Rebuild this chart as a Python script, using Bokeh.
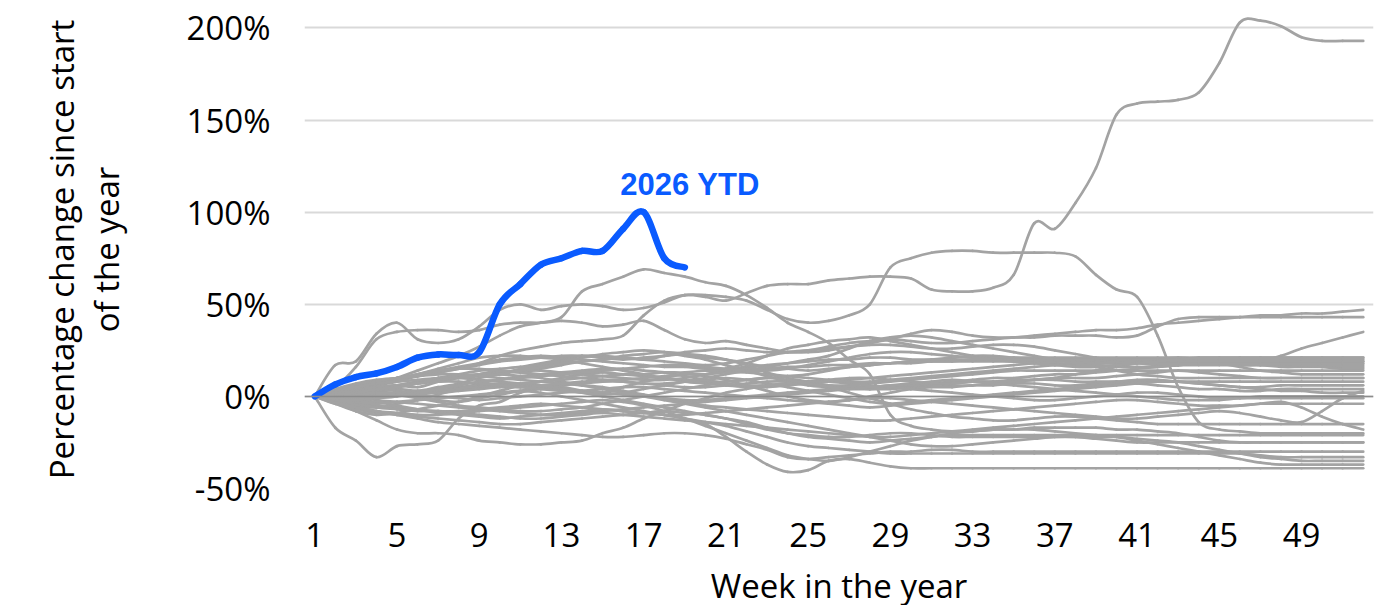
from bokeh.plotting import figure
from bokeh.models import Range1d, FixedTicker, Span, Label
from bokeh.embed import file_html
from bokeh.resources import INLINE

# ---------------- data ----------------
weeks = list(range(1, 53))
x_tick_weeks = [1, 5, 9, 13, 17, 21, 25, 29, 33, 37, 41, 45, 49]
y_ticks = [-50, 0, 50, 100, 150, 200]
y_tick_labels = ["-50%", "0%", "50%", "100%", "150%", "200%"]

ytd_label = "2026 YTD"
ytd_weeks = list(range(1, 20))
ytd_2026 = [0, 6.5, 10.5, 12.5, 16, 21, 22.8, 22.5, 24, 50, 61, 71.5, 75, 79, 79, 91, 100, 75, 70]

s01 = [0, 17, 19, 34, 40, 31, 29, 31, 38, 47, 50, 47, 49,
       50, 49, 47, 48, 51, 55, 54, 52, 56, 60, 61, 61, 63,
       64, 65, 65, 64, 58, 57, 57, 59, 66, 94, 91, 105, 124,
       153, 159, 160, 161, 165, 181, 203, 204, 201, 195, 193, 193, 193]
s02 = [0, 2, 4, 6, 8, 11, 13, 15, 18, 22, 25, 27, 29,
       30, 31, 33, 44, 52, 55, 55, 54, 52, 47, 42, 40, 41,
       44, 50, 70, 75, 78, 79, 79, 78, 78, 78, 78, 76, 66,
       58, 54, 33, 5, -14, -18, -19, -20, -20, -20, -20, -20, -20]
s03 = [0, -2, 2, 6, 10, 14, 18, 22, 27, 33, 38, 40, 43,
       57, 61, 65, 69, 67, 65, 62, 60, 55, 48, 40, 35, 29,
       20, 12, -10, -16, -18, -19, -19, -18, -18, -17, -17, -17, -17,
       -18, -18, -19, -20, -22, -24, -25, -25, -25, -25, -25, -25, -25]
s04 = [0, 5, 16, 31, 35, 36, 36, 35, 36, 39, 40, 40, 41,
       40, 38, 39, 41, 36, 31, 29, 30, 28, 26, 24, 24, 25,
       27, 29, 31, 34, 36, 35, 33, 32, 32, 33, 34, 35, 36,
       36, 37, 39, 40, 41, 42, 43, 44, 44, 45, 45, 46, 47]
s05 = [0, 1, 3, 5, 6, 8, 10, 12, 14, 15, 16, 18, 20,
       22, 22, 21, 20, 22, 24, 25, 26, 25, 24, 24, 25, 27,
       29, 30, 31, 30, 29, 29, 30, 31, 32, 32, 33, 33, 33,
       32, 33, 38, 42, 43, 43, 43, 43, 43, 43, 43, 43, 43]
s06 = [0, 2, 1, 4, 6, 5, 8, 10, 12, 14, 13, 15, 17,
       19, 20, 22, 23, 24, 23, 21, 20, 18, 16, 15, 14, 15,
       16, 17, 18, 19, 20, 21, 22, 22, 21, 20, 19, 19, 18,
       18, 19, 20, 20, 19, 18, 18, 19, 22, 26, 29, 32, 35]
s07 = [0, 3, 5, 8, 10, 12, 14, 16, 18, 20, 21, 22, 21,
       20, 19, 18, 17, 16, 16, 15, 15, 16, 17, 18, 19, 20,
       20, 21, 21, 20, 20, 20, 20, 21, 21, 21, 21, 21, 21,
       21, 21, 21, 21, 21, 21, 21, 21, 21, 21, 21, 21, 21]
s08 = [0, -4, -8, -10, -9, -7, -5, -3, 0, 3, 6, 8, 10,
       12, 13, 12, 11, 10, 9, 8, 8, 9, 10, 11, 12, 14,
       16, 17, 18, 18, 19, 19, 19, 19, 19, 19, 19, 19, 19,
       19, 19, 19, 19, 19, 19, 19, 19, 19, 19, 19, 19, 19]
s09 = [0, 2, 4, 6, 9, 12, 15, 18, 21, 22, 22, 21, 20,
       18, 16, 14, 12, 10, 8, 7, 6, 5, 5, 6, 7, 8,
       9, 10, 11, 12, 13, 14, 15, 16, 17, 18, 19, 20, 20,
       19, 18, 17, 17, 17, 17, 17, 17, 17, 17, 17, 17, 17]
s10 = [0, 1, 2, 3, 5, 7, 9, 11, 12, 13, 14, 14, 13,
       12, 11, 10, 9, 9, 10, 12, 15, 18, 22, 26, 28, 30,
       31, 32, 30, 28, 26, 24, 22, 20, 19, 18, 18, 17, 17,
       16, 16, 16, 17, 18, 18, 17, 17, 16, 16, 16, 16, 16]
s11 = [0, -1, 0, 2, 4, 3, 5, 7, 10, 12, 15, 17, 19,
       21, 23, 24, 25, 24, 22, 20, 17, 14, 11, 8, 6, 5,
       4, 4, 5, 6, 7, 8, 9, 10, 10, 11, 12, 12, 13,
       14, 15, 16, 17, 18, 19, 20, 19, 18, 17, 16, 15, 15]
s12 = [0, 2, 3, 2, 1, 0, -2, -3, -1, 1, 3, 5, 6,
       7, 8, 8, 7, 6, 5, 5, 6, 7, 8, 8, 7, 6,
       6, 7, 8, 9, 10, 11, 12, 13, 14, 14, 14, 14, 14,
       14, 14, 14, 14, 14, 14, 14, 14, 14, 14, 14, 14, 14]
s13 = [0, -3, -5, -6, -4, -2, 1, 4, 7, 9, 11, 12, 13,
       14, 15, 15, 14, 13, 11, 9, 7, 6, 6, 7, 8, 9,
       10, 10, 9, 8, 7, 6, 6, 7, 8, 9, 10, 12, 14,
       16, 18, 20, 21, 20, 18, 16, 14, 13, 12, 12, 12, 12]
s14 = [0, 4, 7, 9, 10, 11, 13, 15, 17, 19, 20, 21, 22,
       22, 21, 20, 21, 22, 23, 22, 20, 17, 13, 10, 8, 6,
       5, 4, 4, 5, 6, 7, 8, 8, 9, 9, 10, 10, 10,
       11, 12, 13, 14, 13, 12, 11, 10, 10, 10, 10, 10, 10]
s15 = [0, 1, 3, 4, 3, 2, 3, 5, 6, 7, 6, 5, 4,
       3, 2, 1, 0, -1, -2, -2, -1, 0, 1, 2, 3, 4,
       5, 5, 6, 6, 7, 7, 8, 8, 8, 9, 9, 8, 8,
       8, 8, 8, 8, 8, 8, 8, 8, 8, 8, 8, 8, 8]
s16 = [0, -17, -24, -33, -27, -26, -24, -12, -5, -3, 2, 4, 5,
       3, 2, 5, 8, 10, 12, 11, 9, 6, 3, 0, -2, -3,
       -2, 0, 2, 4, 5, 5, 6, 6, 7, 7, 6, 6, 7,
       8, 9, 9, 8, 7, 6, 5, 5, 6, 6, 6, 6, 6]
s17 = [0, 2, 5, 7, 9, 12, 14, 15, 15, 14, 13, 12, 11,
       10, 9, 8, 7, 7, 8, 9, 10, 9, 7, 5, 3, 1,
       -1, -3, -4, -3, -2, -1, 0, 1, 2, 3, 4, 5, 6,
       7, 7, 6, 5, 4, 4, 3, 3, 4, 4, 4, 4, 4]
s18 = [0, -2, -1, 1, 2, 1, 0, -1, -2, -1, 0, 1, 2,
       3, 4, 5, 5, 4, 3, 2, 1, 0, -1, -2, -3, -4,
       -5, -6, -5, -4, -3, -2, -1, 0, 1, 2, 3, 4, 5,
       6, 7, 8, 8, 7, 6, 5, 4, 3, 3, 2, 2, 2]
s19 = [0, -3, -8, -13, -18, -20, -20, -21, -24, -25, -26, -26, -25,
       -24, -20, -17, -12, -8, -4, -1, 2, 4, 6, 7, 8, 8,
       7, 6, 5, 4, 3, 2, 1, 0, -1, -2, -2, -1, 0,
       1, 2, 2, 1, 0, -1, -1, 0, 0, 0, 0, 0, 0]
s20 = [0, 1, 0, -2, -3, -4, -5, -6, -7, -8, -9, -10, -10,
       -9, -8, -7, -6, -5, -4, -3, -2, -1, 0, 1, 2, 3,
       4, 5, 6, 7, 8, 9, 8, 7, 6, 5, 4, 3, 2,
       1, 0, -1, -2, -2, -2, -1, -1, -1, -1, -1, -1, -1]
s21 = [0, 3, 6, 8, 10, 11, 12, 12, 11, 10, 9, 8, 7,
       6, 5, 3, 1, -1, -3, -5, -6, -7, -8, -9, -10, -11,
       -12, -13, -13, -12, -11, -10, -9, -8, -7, -6, -5, -4, -3,
       -2, -2, -3, -4, -5, -5, -5, -4, -4, -4, -4, -4, -4]
s22 = [0, -1, -3, -5, -6, -7, -8, -8, -7, -6, -5, -4, -5,
       -6, -7, -8, -9, -10, -10, -9, -8, -7, -6, -5, -4, -3,
       -2, -1, -1, -2, -3, -4, -5, -6, -7, -8, -9, -10, -11,
       -12, -12, -11, -10, -9, -8, -9, -11, -13, -14, -8, -1, 3]
s23 = [0, 2, 4, 3, 1, -1, -3, -5, -6, -7, -8, -8, -7,
       -6, -4, -2, 0, 2, 4, 6, 8, 9, 10, 9, 7, 5,
       2, -1, -4, -7, -9, -11, -12, -13, -13, -12, -11, -11, -12,
       -13, -14, -15, -15, -15, -15, -15, -15, -15, -15, -15, -15, -15]
s24 = [0, -2, -4, -6, -7, -8, -8, -9, -10, -11, -12, -12, -11,
       -10, -9, -10, -11, -12, -13, -14, -15, -16, -17, -18, -19, -20,
       -21, -22, -22, -21, -20, -19, -18, -17, -16, -15, -14, -13, -12,
       -11, -10, -9, -8, -7, -6, -5, -4, -3, -6, -11, -15, -18]
s25 = [0, -4, -7, -9, -10, -11, -12, -13, -14, -15, -15, -14, -13,
       -12, -11, -10, -9, -8, -9, -10, -12, -14, -17, -20, -22, -23,
       -24, -25, -24, -23, -22, -21, -21, -21, -21, -21, -21, -21, -21,
       -21, -21, -21, -21, -21, -21, -21, -21, -21, -21, -21, -21, -21]
s26 = [0, 1, 2, 4, 6, 8, 10, 11, 12, 12, 11, 10, 8,
       6, 4, 2, 0, -2, -4, -6, -8, -10, -12, -14, -16, -18,
       -20, -22, -24, -26, -27, -27, -26, -25, -24, -23, -22, -22, -23,
       -24, -25, -25, -25, -25, -25, -25, -25, -25, -25, -25, -25, -25]
s27 = [0, -2, -5, -8, -10, -12, -14, -15, -16, -17, -18, -19, -20,
       -21, -22, -22, -21, -20, -20, -21, -23, -26, -29, -33, -34, -33,
       -32, -31, -30, -30, -29, -29, -30, -30, -30, -30, -30, -30, -30,
       -30, -30, -30, -30, -30, -30, -30, -30, -30, -30, -30, -30, -30]
s28 = [0, -1, -2, -3, -5, -7, -9, -10, -11, -12, -11, -10, -9,
       -8, -7, -8, -9, -10, -12, -14, -16, -19, -22, -25, -27, -28,
       -29, -30, -31, -31, -31, -31, -31, -31, -31, -31, -31, -31, -31,
       -31, -31, -31, -31, -31, -31, -31, -32, -33, -33, -33, -33, -33]
s29 = [0, 3, 5, 7, 8, 9, 10, 10, 9, 8, 7, 6, 4,
       2, 0, -2, -4, -6, -8, -10, -12, -15, -18, -20, -21, -22,
       -22, -21, -20, -20, -21, -22, -22, -22, -22, -22, -22, -22, -22,
       -22, -23, -24, -25, -27, -29, -31, -33, -34, -35, -35, -35, -35]
s30 = [0, -3, -6, -8, -9, -10, -10, -9, -8, -7, -6, -5, -4,
       -3, -2, -3, -5, -8, -12, -16, -20, -24, -28, -32, -34, -35,
       -33, -30, -27, -24, -22, -20, -19, -18, -18, -18, -19, -20, -21,
       -22, -24, -26, -28, -30, -32, -34, -36, -37, -37, -37, -37, -37]
s31 = [0, -2, -3, -4, -3, -2, -1, 0, 1, 2, 3, 2, 0,
       -2, -4, -6, -8, -10, -12, -15, -22, -30, -37, -41, -40, -35,
       -34, -36, -38, -39, -39, -39, -39, -39, -39, -39, -39, -39, -39,
       -39, -39, -39, -39, -39, -39, -39, -39, -39, -39, -39, -39, -39]
s32 = [0, 1, 1, 2, 2, 3, 3, 4, 5, 6, 7, 8, 9,
       10, 11, 12, 12, 13, 13, 14, 14, 15, 15, 16, 16, 17,
       17, 18, 18, 19, 19, 19, 20, 20, 20, 20, 20, 20, 20,
       20, 20, 20, 20, 20, 20, 20, 20, 20, 20, 20, 20, 20]
s33 = [0, -1, -1, 0, 1, 2, 2, 3, 4, 5, 5, 6, 7,
       8, 9, 9, 10, 11, 12, 12, 13, 13, 12, 11, 10, 9,
       8, 8, 9, 10, 11, 12, 13, 14, 15, 16, 17, 18, 18,
       18, 18, 18, 18, 18, 18, 18, 18, 18, 18, 18, 18, 18]
s34 = [0, 2, 3, 5, 6, 7, 8, 8, 7, 6, 5, 4, 3,
       2, 1, 2, 4, 6, 8, 10, 12, 14, 16, 18, 20, 22,
       26, 30, 32, 33, 32, 30, 28, 26, 24, 22, 20, 18, 16,
       14, 12, 11, 10, 10, 10, 10, 10, 10, 10, 10, 10, 10]
s35 = [0, 1, 2, 4, 5, 7, 9, 10, 11, 12, 14, 16, 18,
       19, 20, 21, 20, 19, 18, 17, 18, 20, 22, 24, 25, 26,
       27, 28, 28, 27, 26, 26, 27, 28, 28, 27, 25, 23, 21,
       20, 19, 19, 19, 19, 19, 19, 19, 19, 19, 19, 19, 19]
s36 = [0, -1, -2, -1, 0, 2, 4, 6, 8, 9, 10, 11, 12,
       13, 14, 15, 16, 17, 17, 16, 15, 14, 14, 15, 17, 19,
       21, 23, 24, 24, 23, 22, 21, 20, 19, 18, 17, 16, 16,
       17, 18, 19, 20, 21, 21, 21, 21, 21, 21, 21, 21, 21]

past_years = [s01, s02, s03, s04, s05, s06, s07, s08, s09, s10, s11, s12,
              s13, s14, s15, s16, s17, s18, s19, s20, s21, s22, s23, s24,
              s25, s26, s27, s28, s29, s30, s31, s32, s33, s34, s35, s36]
for s in past_years:
    assert len(s) == len(weeks), len(s)


def smooth_segments(xs, ys):
    """Excel-style smoothed line: one cubic Bezier per pair of data points
    (control points from the neighbouring data points, Catmull-Rom 1/6)."""
    n = len(xs)
    seg = dict(x0=[], y0=[], x1=[], y1=[], cx0=[], cy0=[], cx1=[], cy1=[])
    for i in range(n - 1):
        a = max(i - 1, 0)
        d = min(i + 2, n - 1)
        seg["x0"].append(xs[i]); seg["y0"].append(ys[i])
        seg["x1"].append(xs[i + 1]); seg["y1"].append(ys[i + 1])
        seg["cx0"].append(xs[i] + (xs[i + 1] - xs[a]) / 6.0)
        seg["cy0"].append(ys[i] + (ys[i + 1] - ys[a]) / 6.0)
        seg["cx1"].append(xs[i + 1] - (xs[d] - xs[i]) / 6.0)
        seg["cy1"].append(ys[i + 1] - (ys[d] - ys[i]) / 6.0)
    return seg


# ---------------- style ----------------
GRAY = "#a3a3a3"
BLUE = "#0a5bff"
FONT = "Open Sans"

p = figure(frame_width=1069, frame_height=478,
           x_range=Range1d(0.5, 52.5), y_range=Range1d(-50, 209.5),
           output_backend="svg", toolbar_location=None,
           min_border_left=304, min_border_right=4,
           min_border_top=10, min_border_bottom=95)
p.outline_line_color = None
p.background_fill_color = "white"
p.border_fill_color = "white"

p.xgrid.grid_line_color = None
p.ygrid.ticker = FixedTicker(ticks=y_ticks)
p.ygrid.grid_line_color = "#d9d9d9"
p.ygrid.grid_line_width = 2

p.xaxis.ticker = FixedTicker(ticks=x_tick_weeks)
p.yaxis.ticker = FixedTicker(ticks=y_ticks)
p.yaxis.major_label_overrides = {t: l for t, l in zip(y_ticks, y_tick_labels)}

for ax in (p.xaxis[0], p.yaxis[0]):
    ax.axis_line_color = None
    ax.major_tick_line_color = None
    ax.minor_tick_line_color = None
    ax.major_tick_in = 0
    ax.major_tick_out = 0
    ax.major_label_text_font = FONT
    ax.major_label_text_font_size = "33px"
    ax.major_label_text_color = "#000000"
    ax.axis_label_text_font = FONT
    ax.axis_label_text_font_size = "33px"
    ax.axis_label_text_font_style = "normal"
    ax.axis_label_text_color = "#000000"

p.yaxis.major_label_standoff = 34
p.yaxis.axis_label = "Percentage change since start\nof the year"
p.yaxis.axis_label_text_line_height = 1.0
p.yaxis.axis_label_standoff = 55
p.xaxis.major_label_standoff = 34
p.xaxis.axis_label = "Week in the year"
p.xaxis.axis_label_standoff = 13

zero = Span(location=0, dimension="width", line_color="#8c8c8c", line_width=1.5)
p.add_layout(zero)

for s in past_years:
    p.bezier(line_color=GRAY, line_width=2.7, line_cap="round",
             **smooth_segments(weeks, s))

p.bezier(line_color=BLUE, line_width=6.5, line_cap="round",
         **smooth_segments(ytd_weeks, ytd_2026))

peak_i = max(range(len(ytd_2026)), key=lambda i: ytd_2026[i])
p.add_layout(Label(x=ytd_weeks[peak_i] - 1.14, y=ytd_2026[peak_i] + 14.8,
                   text=ytd_label, text_font="Liberation Sans",
                   text_font_style="bold", text_font_size="31px",
                   text_color=BLUE, text_align="left",
                   text_baseline="alphabetic"))

open("out.html", "w").write(file_html(p, INLINE))
